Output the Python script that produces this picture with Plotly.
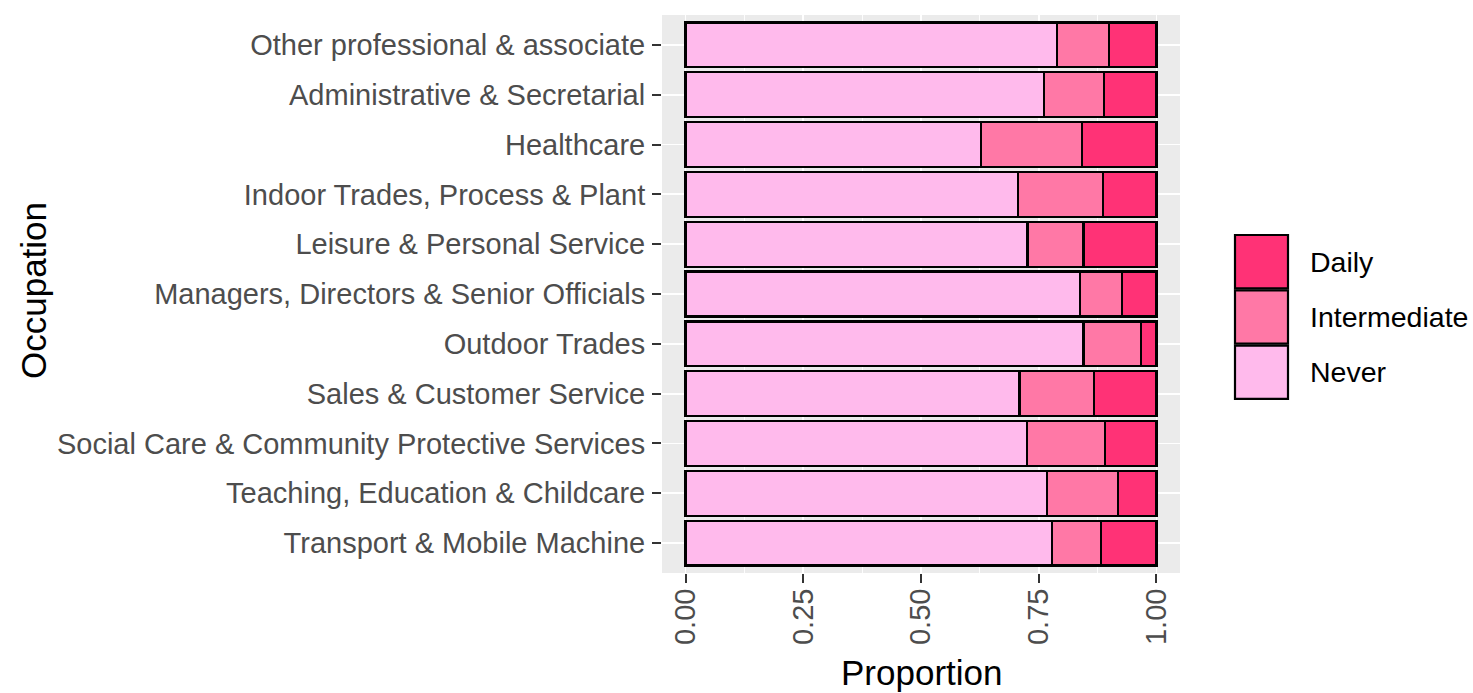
import plotly.graph_objects as go

occupations = [
    "Other professional & associate",
    "Administrative & Secretarial",
    "Healthcare",
    "Indoor Trades, Process & Plant",
    "Leisure & Personal Service",
    "Managers, Directors & Senior Officials",
    "Outdoor Trades",
    "Sales & Customer Service",
    "Social Care & Community Protective Services",
    "Teaching, Education & Childcare",
    "Transport & Mobile Machine",
]
never = [0.789, 0.762, 0.627, 0.706, 0.726, 0.838, 0.845, 0.709, 0.725, 0.768, 0.778]
intermediate = [0.110, 0.126, 0.215, 0.180, 0.119, 0.089, 0.122, 0.159, 0.165, 0.150, 0.105]
daily = [0.101, 0.112, 0.158, 0.114, 0.155, 0.073, 0.033, 0.132, 0.110, 0.082, 0.117]

series_names = ["Never", "Intermediate", "Daily"]
legend_order = ["Daily", "Intermediate", "Never"]
x_ticks = [0.0, 0.25, 0.5, 0.75, 1.0]
x_tick_labels = ["0.00", "0.25", "0.50", "0.75", "1.00"]
x_minor = [0.125, 0.375, 0.625, 0.875]

colors = {"Never": "#FFBAEC", "Intermediate": "#FF78A6", "Daily": "#FF3276"}

W, H = 1473, 693
L, T = 662, 15
R = W - 1180
B = H - 573
PW, PH = W - L - R, H - T - B
FONT = "Liberation Sans, Arial, sans-serif"
TICK_SIZE = 29
LEGEND_SIZE = 28.5
TITLE_SIZE = 35


def px_x(px):
    return (px - L) / PW


def px_y(py):
    return (H - B - py) / PH


fig = go.Figure()
for name, vals in zip(series_names, [never, intermediate, daily]):
    fig.add_trace(go.Bar(
        y=occupations, x=vals, orientation="h", name=name,
        marker=dict(color=colors[name], line=dict(color="black", width=2.2)),
        showlegend=False,
    ))

fig.update_layout(
    barmode="stack", bargap=0.1,
    width=W, height=H,
    margin=dict(l=L, r=R, t=T, b=B, autoexpand=False),
    plot_bgcolor="#EBEBEB", paper_bgcolor="white",
    font=dict(family=FONT),
)
fig.update_xaxes(
    range=[-0.05, 1.05], tickmode="array", tickvals=x_ticks, ticktext=x_tick_labels,
    tickangle=-90, ticks="outside", ticklen=9, tickwidth=2, tickcolor="#333333",
    tickfont=dict(size=TICK_SIZE, color="#4D4D4D", family=FONT), ticklabelstandoff=-6,
    showgrid=True, gridcolor="white", gridwidth=1.8,
    minor=dict(tickmode="array", tickvals=x_minor, showgrid=True, gridcolor="white", gridwidth=0.9, ticks=""),
    zeroline=False, showline=False, fixedrange=True,
)
fig.update_yaxes(
    categoryorder="array", categoryarray=occupations[::-1], range=[-0.6, 10.6],
    ticks="outside", ticklen=9, tickwidth=2, tickcolor="#333333",
    tickfont=dict(size=TICK_SIZE, color="#4D4D4D", family=FONT), ticklabelstandoff=1,
    showgrid=True, gridcolor="white", gridwidth=1.8,
    zeroline=False, showline=False, fixedrange=True,
)

# axis titles
fig.add_annotation(text="Occupation", xref="paper", yref="paper", x=px_x(33), y=px_y(291),
                   xanchor="center", yanchor="middle",
                   textangle=-90, showarrow=False, font=dict(size=TITLE_SIZE, color="black", family=FONT))
fig.add_annotation(text="Proportion", xref="paper", yref="paper", x=px_x(921), y=px_y(672),
                   xanchor="center", yanchor="middle",
                   showarrow=False, font=dict(size=TITLE_SIZE, color="black", family=FONT))

# legend drawn manually
key_top, key_h = 234, 55.3
for i, name in enumerate(legend_order):
    y0 = key_top + i * key_h + 1
    y1 = key_top + (i + 1) * key_h - 1
    fig.add_shape(type="rect", xref="paper", yref="paper",
                  x0=px_x(1235), x1=px_x(1288), y0=px_y(y1), y1=px_y(y0),
                  fillcolor=colors[name], line=dict(color="black", width=2.2))
    fig.add_annotation(text=name, xref="paper", yref="paper", x=px_x(1308), y=px_y((y0 + y1) / 2),
                       xanchor="left", yanchor="middle", showarrow=False,
                       font=dict(size=LEGEND_SIZE, color="black", family=FONT))

fig.write_html(
    "out.html",
    config={"displayModeBar": False, "staticPlot": True},
    post_script=(
        "document.body.style.margin='0';"
        "document.body.style.overflow='hidden';"
        "document.documentElement.style.overflow='hidden';"
    ),
)
